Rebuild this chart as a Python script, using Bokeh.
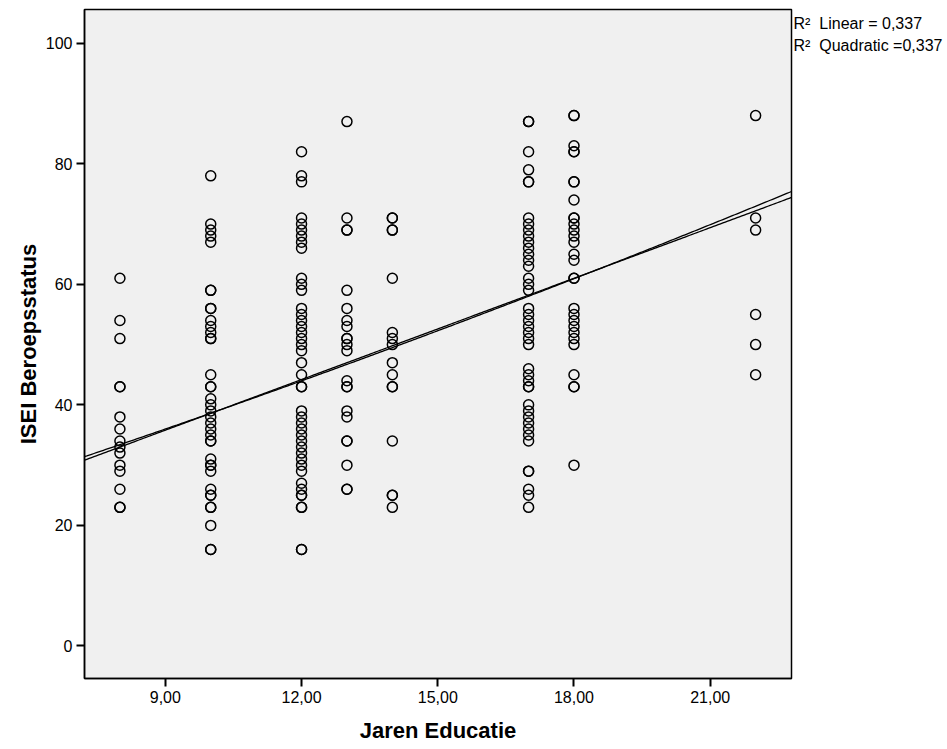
import numpy as np
from bokeh.plotting import figure
from bokeh.layouts import row
from bokeh.models import Range1d, FixedTicker, Label
from bokeh.embed import file_html
from bokeh.resources import INLINE

# ISEI occupational status per years of education
edu_8 = [61, 54, 51, 43, 43, 38, 36, 34, 33, 32, 30, 29, 26, 23, 23]
edu_10 = [78, 70, 69, 68, 67, 59, 59, 56, 56, 54, 53, 52, 51, 51, 45, 43, 43, 41, 40,
          39, 38, 37, 36, 35, 34, 34, 31, 30, 30, 29, 26, 25, 25, 23, 23, 20, 16, 16]
edu_12 = [82, 78, 77, 71, 70, 69, 68, 67, 66, 61, 60, 59, 56, 55, 54, 53, 52, 51, 50,
          49, 47, 45, 43, 43, 39, 38, 37, 36, 35, 34, 33, 32, 31, 30, 29, 27, 26, 25,
          25, 23, 23, 16, 16]
edu_13 = [87, 71, 69, 69, 59, 56, 54, 53, 51, 51, 50, 49, 44, 43, 43, 39, 38, 34, 34,
          30, 26, 26]
edu_14 = [71, 71, 69, 69, 61, 52, 51, 50, 47, 45, 43, 43, 34, 25, 25, 23]
edu_17 = [87, 87, 82, 79, 77, 77, 71, 70, 69, 68, 67, 66, 65, 64, 63, 61, 60, 59, 56,
          55, 54, 53, 52, 51, 50, 46, 45, 44, 43, 43, 40, 39, 38, 37, 36, 35, 34, 29,
          29, 26, 25, 23]
edu_18 = [88, 88, 83, 82, 82, 77, 77, 74, 71, 71, 70, 69, 68, 67, 65, 64, 61, 61, 56,
          55, 54, 53, 52, 51, 50, 45, 43, 43, 30]
edu_22 = [88, 71, 69, 55, 50, 45]

groups = {8: edu_8, 10: edu_10, 12: edu_12, 13: edu_13, 14: edu_14,
          17: edu_17, 18: edu_18, 22: edu_22}

# Fit-line coefficients
linear_coef = [10.6, 2.80]                 # intercept, slope
quadratic_coef = [13.944, 2.2884, 0.01791]  # c0, c1, c2

x_ticks = [9, 12, 15, 18, 21]
x_tick_labels = ["9,00", "12,00", "15,00", "18,00", "21,00"]
y_ticks = [0, 20, 40, 60, 80, 100]

r2_linear_text = "R\u00b2\u00a0 Linear = 0,337"
r2_quad_text = "R\u00b2\u00a0 Quadratic =0,337"

xs, ys = [], []
for k, vals in groups.items():
    xs += [k] * len(vals)
    ys += vals

FONT = "Liberation Sans"
X0, X1 = 7.22, 22.79
Y0, Y1 = -5.4, 105.6

p = figure(width=793, height=749, x_range=Range1d(X0, X1), y_range=Range1d(Y0, Y1),
           output_backend="svg", toolbar_location=None,
           min_border_left=84, min_border_right=2, min_border_top=9, min_border_bottom=71)
p.background_fill_color = "#F0F0F0"
p.border_fill_color = "white"
p.outline_line_color = "black"
p.outline_line_width = 1.5
p.grid.visible = False

for ax in (p.xaxis[0], p.yaxis[0]):
    ax.axis_line_color = "black"
    ax.axis_line_width = 1.5
    ax.major_tick_line_color = "black"
    ax.major_tick_line_width = 2
    ax.major_tick_out = 8
    ax.major_tick_in = 0
    ax.minor_tick_line_color = None
    ax.major_label_text_font = FONT
    ax.major_label_text_font_size = "16px"
    ax.major_label_text_color = "black"
    ax.axis_label_text_font = FONT
    ax.axis_label_text_font_size = "22px"
    ax.axis_label_text_font_style = "bold"
    ax.axis_label_text_color = "black"
    ax.major_label_standoff = 4

p.xaxis.ticker = FixedTicker(ticks=x_ticks)
p.xaxis.major_label_overrides = {t: l for t, l in zip(x_ticks, x_tick_labels)}
p.yaxis.ticker = FixedTicker(ticks=y_ticks)
p.xaxis.axis_label = "Jaren Educatie"
p.yaxis.axis_label = "ISEI Beroepsstatus"
p.xaxis.axis_label_standoff = 12
p.yaxis.axis_label_standoff = 2

lx = np.linspace(X0, X1, 300)
p.line(lx, np.polyval(linear_coef[::-1], lx), line_color="black", line_width=1.3)
p.line(lx, np.polyval(quadratic_coef[::-1], lx), line_color="black", line_width=1.3)

p.scatter(xs, ys, marker="circle", size=10, fill_color=None, line_color="black", line_width=1.5)

# side panel holding the R² notes (to the right of the plot box)
side = figure(width=154, height=749, x_range=Range1d(0, 154), y_range=Range1d(678, 9),
              output_backend="svg", toolbar_location=None,
              min_border_left=0, min_border_right=0,
              min_border_top=9, min_border_bottom=71)
side.axis.visible = False
side.grid.visible = False
side.outline_line_color = None
side.background_fill_color = "white"
side.border_fill_color = "white"
side.add_layout(Label(x=0, y=22.5, text=r2_linear_text, text_font=FONT,
                      text_font_size="16px", text_color="black", text_baseline="alphabetic"))
side.add_layout(Label(x=0, y=44.5, text=r2_quad_text, text_font=FONT,
                      text_font_size="16px", text_color="black", text_baseline="alphabetic"))

layout = row(p, side, spacing=0)
open("out.html", "w").write(file_html(layout, INLINE))
